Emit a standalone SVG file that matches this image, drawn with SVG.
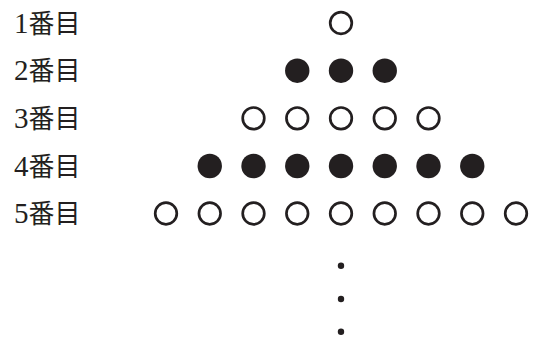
<svg xmlns="http://www.w3.org/2000/svg" width="539" height="342" viewBox="0 0 539 342">
<style>
.lbl{font-family:"Liberation Serif","Noto Sans CJK JP",serif;font-size:26px;fill:#231f20}
.d{font-size:29px}
.o{fill:#fff;stroke:#231f20;stroke-width:2.7}
.f{fill:#231f20}
</style>
<defs>
<circle id="oc" r="10.8" class="o"/>
<circle id="fc" r="12.2" class="f"/>
</defs>
<rect width="539" height="342" fill="#fff"/>
<g id="labels">
<text class="lbl" x="14" y="32.5"><tspan class="d">1</tspan>番目</text>
<text class="lbl" x="14" y="80.2"><tspan class="d">2</tspan>番目</text>
<text class="lbl" x="14" y="127.8"><tspan class="d">3</tspan>番目</text>
<text class="lbl" x="14" y="175.5"><tspan class="d">4</tspan>番目</text>
<text class="lbl" x="14" y="223"><tspan class="d">5</tspan>番目</text>
</g>
<g id="row1">
<use href="#oc" x="341" y="23"/>
</g>
<g id="row2">
<use href="#fc" x="297.25" y="70.7"/>
<use href="#fc" x="341" y="70.7"/>
<use href="#fc" x="384.75" y="70.7"/>
</g>
<g id="row3">
<use href="#oc" x="253.5" y="118.3"/>
<use href="#oc" x="297.25" y="118.3"/>
<use href="#oc" x="341" y="118.3"/>
<use href="#oc" x="384.75" y="118.3"/>
<use href="#oc" x="428.5" y="118.3"/>
</g>
<g id="row4">
<use href="#fc" x="209.75" y="166"/>
<use href="#fc" x="253.5" y="166"/>
<use href="#fc" x="297.25" y="166"/>
<use href="#fc" x="341" y="166"/>
<use href="#fc" x="384.75" y="166"/>
<use href="#fc" x="428.5" y="166"/>
<use href="#fc" x="472.25" y="166"/>
</g>
<g id="row5">
<use href="#oc" x="166" y="213.5"/>
<use href="#oc" x="209.75" y="213.5"/>
<use href="#oc" x="253.5" y="213.5"/>
<use href="#oc" x="297.25" y="213.5"/>
<use href="#oc" x="341" y="213.5"/>
<use href="#oc" x="384.75" y="213.5"/>
<use href="#oc" x="428.5" y="213.5"/>
<use href="#oc" x="472.25" y="213.5"/>
<use href="#oc" x="516" y="213.5"/>
</g>
<g id="ellipsis">
<circle class="f" cx="341" cy="265.7" r="3.2"/>
<circle class="f" cx="341" cy="299" r="3.2"/>
<circle class="f" cx="341" cy="331.7" r="3.2"/>
</g>
</svg>
